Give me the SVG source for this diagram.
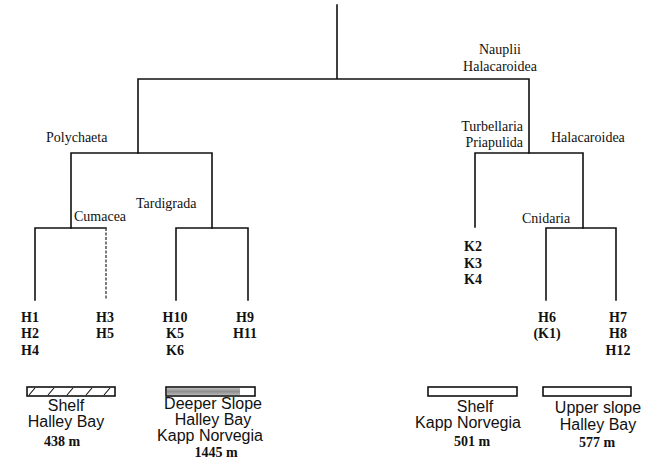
<svg xmlns="http://www.w3.org/2000/svg" width="658" height="460" viewBox="0 0 658 460">
<defs>
<style>
.ln{stroke:#111;stroke-width:1.6;fill:none;stroke-linecap:square}
.dot{stroke:#444;stroke-width:1.4;fill:none;stroke-dasharray:3 1.5}
.cl{font-family:"Liberation Serif","Times New Roman",serif;font-size:14px;fill:#111}
.lf{font-family:"Liberation Serif","Times New Roman",serif;font-size:14px;fill:#111;font-weight:bold;text-anchor:middle}
.bx{font-family:"Liberation Sans",Arial,sans-serif;font-size:16px;fill:#111;text-anchor:middle}
.dp{font-family:"Liberation Serif","Times New Roman",serif;font-size:14px;fill:#111;font-weight:bold;text-anchor:middle}
.box{fill:#fff;stroke:#111;stroke-width:1.6}
</style>
<linearGradient id="gray" x1="0" y1="0" x2="0" y2="1">
<stop offset="0" stop-color="#bdbdbd"/>
<stop offset="0.5" stop-color="#8f8f8f"/>
<stop offset="1" stop-color="#b5b5b5"/>
</linearGradient>
</defs>
<rect width="658" height="460" fill="#fff"/>
<g id="connectors">
<path class="ln" d="M337 5V79M138 153V79H529V153"/>
<path class="ln" d="M71 228V153H212V228"/>
<path class="ln" d="M475 227V153H583V228"/>
<path class="ln" d="M35 300V228H106"/>
<path class="dot" d="M106 228V300"/>
<path class="ln" d="M176 300V228H248V300"/>
<path class="ln" d="M546 300V228H616V300"/>
</g>
<g id="clade-labels">
<text class="cl" x="500" y="54" text-anchor="middle">Nauplii</text>
<text class="cl" x="500" y="71" text-anchor="middle">Halacaroidea</text>
<text class="cl" x="46" y="142">Polychaeta</text>
<text class="cl" x="523" y="131" text-anchor="end">Turbellaria</text>
<text class="cl" x="523" y="147" text-anchor="end">Priapulida</text>
<text class="cl" x="551" y="142">Halacaroidea</text>
<text class="cl" x="136" y="208">Tardigrada</text>
<text class="cl" x="74" y="221">Cumacea</text>
<text class="cl" x="522" y="223">Cnidaria</text>
</g>
<g id="leaf-H1">
<text class="lf" x="30" y="322">H1</text><text class="lf" x="30" y="338">H2</text><text class="lf" x="30" y="355">H4</text>
</g>
<g id="leaf-H3">
<text class="lf" x="105" y="322">H3</text><text class="lf" x="105" y="338">H5</text>
</g>
<g id="leaf-H10">
<text class="lf" x="175" y="322">H10</text><text class="lf" x="175" y="338">K5</text><text class="lf" x="175" y="355">K6</text>
</g>
<g id="leaf-H9">
<text class="lf" x="245" y="322">H9</text><text class="lf" x="245" y="338">H11</text>
</g>
<g id="leaf-K2">
<text class="lf" x="473" y="251">K2</text><text class="lf" x="473" y="268">K3</text><text class="lf" x="473" y="284">K4</text>
</g>
<g id="leaf-H6">
<text class="lf" x="547" y="322">H6</text><text class="lf" x="547" y="338">(K1)</text>
</g>
<g id="leaf-H7">
<text class="lf" x="618" y="322">H7</text><text class="lf" x="618" y="338">H8</text><text class="lf" x="618" y="355">H12</text>
</g>
<g id="shelf-halley">
<rect class="box" x="27" y="387" width="88" height="9"/>
<path stroke="#111" stroke-width="1.1" fill="none" d="M29 395L35 388M48 395L54 388M67 395L73 388M86 395L92 388M104 395L110 388"/>
<text class="bx" x="66" y="411">Shelf</text>
<text class="bx" x="66" y="427">Halley Bay</text>
<text class="dp" x="62" y="446">438 m</text>
</g>
<g id="deeper-slope">
<rect class="box" x="166" y="387" width="89" height="9"/>
<rect x="167" y="388" width="73" height="7" fill="url(#gray)"/>
<text class="bx" x="213" y="409">Deeper Slope</text>
<text class="bx" x="213" y="425">Halley Bay</text>
<text class="bx" x="210" y="441">Kapp Norvegia</text>
<text class="dp" x="216" y="457">1445 m</text>
</g>
<g id="shelf-kapp">
<rect class="box" x="428" y="387" width="89" height="9"/>
<text class="bx" x="475" y="412">Shelf</text>
<text class="bx" x="468" y="428">Kapp Norvegia</text>
<text class="dp" x="472" y="446">501 m</text>
</g>
<g id="upper-slope">
<rect class="box" x="543" y="387" width="88" height="9"/>
<text class="bx" x="598" y="413">Upper slope</text>
<text class="bx" x="598" y="430">Halley Bay</text>
<text class="dp" x="597" y="447">577 m</text>
</g>
</svg>
